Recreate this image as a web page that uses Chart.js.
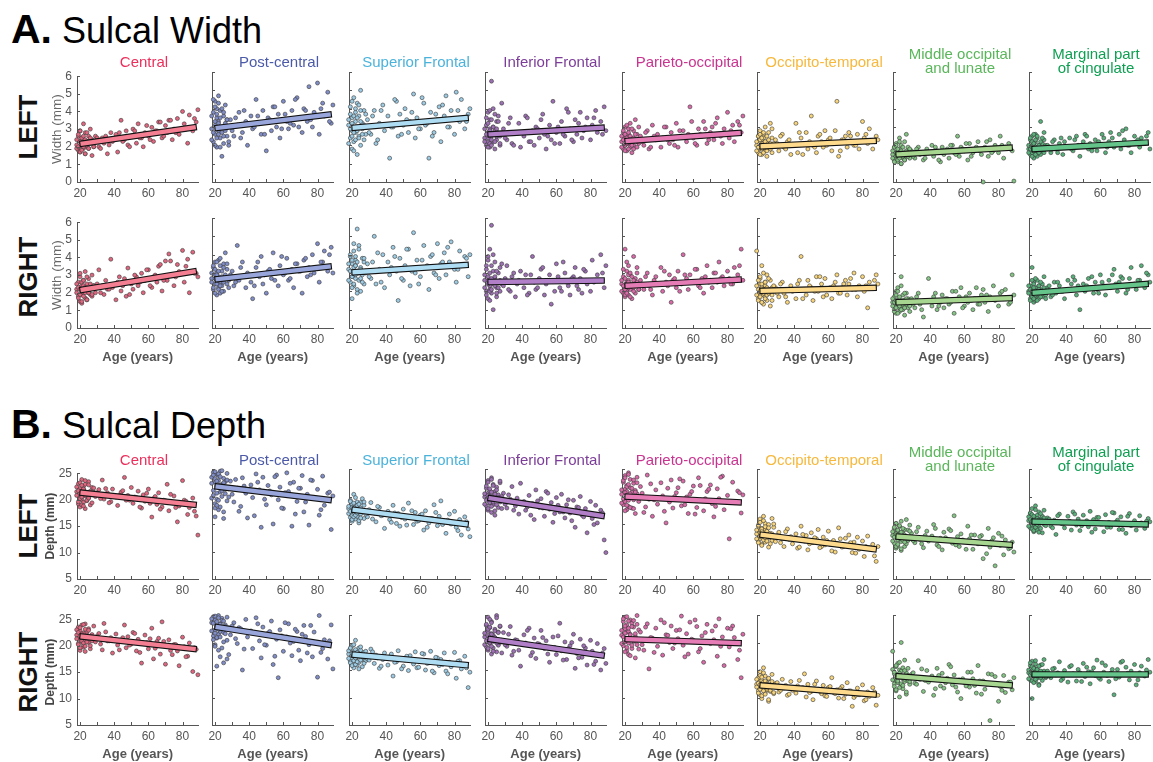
<!DOCTYPE html>
<html>
<head>
<meta charset="utf-8">
<script src="https://cdn.jsdelivr.net/npm/chart.js@4.4.1/dist/chart.umd.min.js"></script>
<style>
  body { margin:0; background:#fff; width:1153px; height:762px; position:relative; overflow:hidden;
         font-family:"Liberation Sans", Arial, Helvetica, sans-serif; }
  canvas { position:absolute; }
  .hdr { position:absolute; left:11px; font-size:36px; line-height:40px; white-space:nowrap; color:#000; }
  .hdr b { font-size:41px; }
  .rl { position:absolute; width:120px; height:30px; line-height:30px; text-align:center;
        font-weight:bold; font-size:26px; color:#111; transform:rotate(-90deg); }
  .ttl { position:absolute; width:170px; text-align:center; font-size:15px; line-height:14px; white-space:nowrap; }
</style>
</head>
<body>
<div class="hdr" style="top:9px"><b>A.</b> Sulcal Width</div>
<div class="hdr" style="top:404px"><b>B.</b> Sulcal Depth</div>
<div class="rl" style="left:-32px;top:112px">LEFT</div>
<div class="rl" style="left:-32px;top:262px">RIGHT</div>
<div class="rl" style="left:-32px;top:511px">LEFT</div>
<div class="rl" style="left:-32px;top:657px">RIGHT</div>

<script>
// subject ages (shared by every panel)
const ages = [18,19,19,20,20,20,21,21,21,22,22,22,23,23,23,24,24,25,25,26,26,27,27,28,
  29,31,33,34,36,38,39,41,42,44,46,47,48,50,51,53,54,56,57,58,60,62,63,65,66,68,
  70,71,72,74,75,77,78,80,81,83,84,86,88,89,
  18,18,19,19,20,20,20,21,21,21,22,22,22,23,23,24,24,25,25,26,27,28,
  30,32,35,37,43,45,49,52,55,59,61,64,67,69,73,76,82,87];
const lineAges = [21.5, 86.5];

const regions = ['Central','Post-central','Superior Frontal','Inferior Frontal','Parieto-occipital',
  'Occipito-temporal','Middle occipital\nand lunate','Marginal part\nof cingulate'];
const titleColors = ['#ec2f5b','#4b5aa8','#4bb3db','#7c3d99','#c93490','#f7b83c','#5ab65a','#0f9f52'];
const pointColors = ['#e0667f','#808dc6','#9ccbe3','#9d70b4','#d96aa8','#f8d47a','#84c484','#58b07a'];
const lineColors  = ['#f47f93','#98a6dc','#aedcf2','#b07fc8','#e57cb6','#fdda8c','#a6d690','#64c48a'];

const widthTicks = [0,1,2,3,4,5,6];
const depthTicks = [5,10,15,20,25];
const ageTicks = [20,30,40,50,60,70,80];
const ageLabels = [20,40,60,80];

// regression line values at lineAges
const widthLeftFit  = [[2.18,3.09],[2.95,3.67],[2.96,3.49],[2.6,2.96],[2.24,2.67],[1.95,2.24],[1.51,1.87],[1.8,2.15]];
const widthRightFit = [[2.17,3.2],[2.66,3.35],[3.04,3.44],[2.51,2.59],[2.31,2.64],[2.03,2.19],[1.41,1.63],[1.93,2.4]];
const depthLeftFit  = [[21.3,19.06],[21.8,19.4],[17.55,15.0],[19.67,16.5],[19.97,18.94],[13.0,10.45],[12.7,11.24],[15.42,14.94]];
const depthRightFit = [[21.7,19.4],[22.8,19.6],[17.77,15.9],[20.6,17.65],[20.6,19.9],[12.17,10.54],[13.86,12.23],[14.2,14.2]];

// sulcal width, left hemisphere (one list per region, matching ages)
const widthLeft = [
 [2.1,2.6,1.8,2.3,2.9,1.7,2.2,2.5,2.0,3.3,1.9,2.4,2.1,2.8,1.6,2.3,2.0,2.6,1.9,2.2,3.0,1.5,2.4,2.0,
  2.6,2.0,2.5,2.2,1.6,2.8,2.3,2.7,1.7,3.5,2.4,2.9,2.1,2.6,3.0,2.2,3.3,2.5,2.0,2.8,
  2.6,3.1,2.3,2.9,3.4,2.5,3.2,2.8,3.5,2.4,3.0,3.6,2.7,4.0,3.3,2.2,3.8,2.9,3.4,4.1,
  2.4,1.9,2.7,2.0,2.3,1.7,2.9,2.1,2.5,1.8,2.2,2.6,2.0,2.4,1.6,2.8,2.1,2.3,1.9,2.5,2.2,2.0,
  2.5,1.9,2.6,2.1,2.8,2.3,2.0,2.9,2.5,3.2,2.4,2.9,3.4,2.6,3.5,2.8,3.0,3.6],
 [2.9,3.8,2.2,4.4,3.1,2.6,3.5,1.9,4.0,2.8,3.3,4.7,2.4,3.0,3.9,1.4,2.7,3.6,2.1,3.2,4.2,2.5,3.4,2.0,
  3.4,2.5,3.1,3.8,2.7,3.3,2.0,3.6,2.9,4.5,3.2,2.6,3.9,1.7,3.5,2.8,4.1,3.0,3.7,2.4,
  4.4,3.3,2.9,3.9,3.1,4.6,3.5,2.7,4.0,3.3,5.2,3.0,3.8,5.4,2.6,4.3,3.6,4.9,3.2,4.2,
  3.6,2.3,4.5,2.7,3.3,2.0,4.1,2.9,3.7,2.4,3.2,4.3,2.6,3.5,1.9,3.0,4.0,2.5,3.8,2.8,3.4,2.2,
  2.8,3.5,2.4,3.9,3.0,3.6,2.6,3.4,4.1,2.9,3.7,3.2,4.5,3.0,3.9,3.4,4.0,3.3],
 [3.1,2.4,4.1,2.8,3.5,1.8,2.9,4.6,2.2,3.3,2.7,3.8,1.5,3.0,4.3,2.5,3.6,2.0,5.0,2.9,3.2,2.3,3.9,2.6,
  3.4,2.6,3.9,2.1,3.2,4.2,2.8,3.6,1.3,3.0,4.4,2.5,3.7,3.1,4.0,2.7,3.3,4.8,2.4,3.5,
  2.9,4.3,3.1,1.3,3.8,2.7,3.4,4.1,2.2,3.6,4.7,3.0,3.9,2.6,4.9,3.3,4.5,2.9,3.7,4.0,
  3.4,2.1,3.7,2.9,4.4,2.5,3.2,1.7,3.6,2.7,4.0,3.0,2.3,3.5,2.8,4.2,2.4,3.3,3.9,2.6,3.1,3.7,
  2.7,3.6,2.3,3.9,3.0,4.5,2.6,3.4,3.8,2.9,4.6,3.2,2.5,3.7,4.2,3.0,3.9,3.3],
 [2.4,3.1,2.0,2.7,3.8,2.2,2.9,1.9,3.4,2.5,5.5,2.1,3.0,2.6,4.0,1.8,2.8,3.3,2.3,2.7,3.6,2.0,2.5,4.3,
  2.9,2.3,3.5,2.1,2.7,3.2,1.9,2.5,3.6,2.2,2.8,2.0,3.0,2.4,3.4,2.6,1.8,3.1,2.3,4.4,
  2.7,2.1,3.3,2.5,4.0,2.9,2.2,3.4,2.6,3.8,2.4,3.0,3.5,2.3,3.1,3.9,2.7,3.3,4.1,2.8,
  2.9,2.2,3.5,2.6,1.9,3.2,2.4,3.9,2.1,2.8,3.4,2.3,2.0,3.0,2.6,3.7,2.2,2.9,2.5,3.3,2.1,2.7,
  2.4,3.2,2.0,2.7,3.5,2.2,2.9,3.7,2.5,2.1,3.0,2.6,3.8,2.3,3.2,2.8,3.5,2.6],
 [2.2,2.7,1.8,2.4,3.0,2.0,2.5,1.7,2.3,2.9,2.1,2.6,1.9,3.2,2.2,2.4,1.6,2.8,2.0,3.4,2.3,1.9,2.6,2.1,
  2.5,2.0,2.8,1.8,3.1,2.3,2.6,1.9,2.4,3.0,2.1,2.7,2.3,3.2,1.9,2.5,2.8,2.2,2.6,4.1,
  2.4,2.0,2.9,2.5,3.3,2.1,2.7,3.0,2.3,3.5,2.6,2.1,2.9,3.8,2.4,3.1,2.2,3.3,2.7,3.6,
  2.5,1.9,2.3,2.8,2.0,2.6,1.7,2.4,3.1,2.1,2.2,2.7,1.8,2.5,2.3,2.9,2.0,2.4,1.8,2.6,2.2,3.0,
  2.2,2.7,1.9,2.5,3.0,2.3,2.0,2.8,2.4,3.3,2.1,2.6,2.9,2.3,3.2,2.5,2.8,3.1],
 [2.0,2.5,1.6,2.2,2.8,1.8,2.3,1.5,2.1,2.6,1.9,2.4,1.7,3.0,2.0,2.2,1.4,2.7,1.9,3.2,2.1,1.6,2.4,2.0,
  2.3,1.7,2.6,1.9,2.2,1.5,2.0,3.2,1.6,2.4,2.1,2.7,1.8,3.6,2.0,1.6,2.5,2.2,1.9,2.8,
  2.3,1.7,2.1,4.4,1.4,2.3,2.5,1.9,2.7,2.2,2.0,2.6,1.8,3.3,2.4,2.1,2.9,1.8,2.5,2.3,
  2.2,1.7,2.5,1.9,2.3,1.5,2.6,2.0,1.8,2.4,2.1,1.6,2.7,1.9,2.2,1.7,2.5,2.0,2.3,1.8,2.9,2.1,
  2.1,2.5,1.8,2.3,2.7,1.5,2.2,1.9,2.6,2.0,2.4,2.8,1.7,2.3,2.5,2.0,2.6,2.2],
 [1.5,1.9,1.2,1.6,2.1,1.3,1.7,1.1,1.5,2.4,1.4,1.8,1.0,1.6,2.0,1.3,1.5,2.2,1.2,1.7,1.4,1.9,1.6,1.3,
  1.7,1.3,1.9,1.5,1.2,1.8,1.6,2.0,1.4,1.7,1.1,1.9,1.5,1.8,1.3,2.0,1.6,2.5,1.4,1.9,
  1.7,1.2,2.1,1.6,1.8,2.2,1.5,0.0,1.9,1.4,2.3,1.7,2.0,1.6,2.5,1.3,1.9,2.1,1.7,0.05,
  1.7,1.3,1.9,1.1,1.6,2.0,1.4,1.2,1.8,1.5,2.2,1.3,1.6,1.0,1.7,1.4,1.9,1.2,1.5,2.6,1.4,1.8,
  1.4,1.8,1.6,1.3,1.9,1.2,1.7,2.0,1.5,1.8,2.1,1.4,1.9,1.7,2.2,1.6,2.0,1.8],
 [1.8,2.3,1.5,2.0,2.5,1.6,1.9,1.3,2.1,2.6,1.7,2.2,1.4,1.9,2.4,1.8,2.0,1.5,3.3,2.1,1.7,2.3,1.6,2.0,
  2.0,1.6,2.3,1.8,2.1,1.5,2.2,1.9,2.4,1.7,2.5,2.0,1.4,2.2,2.6,1.8,2.1,1.9,2.3,1.7,
  2.0,2.4,1.6,2.2,2.7,1.9,2.1,2.6,1.8,2.3,2.9,2.0,1.6,2.5,2.2,1.9,2.4,2.1,2.7,1.8,
  2.0,1.6,2.4,1.8,2.2,1.4,1.9,2.6,1.7,2.1,1.5,2.3,1.9,1.7,2.5,2.0,1.6,2.2,1.8,2.4,2.7,1.9,
  1.9,2.2,1.6,2.4,1.8,2.3,2.0,2.5,1.7,2.2,2.6,1.9,2.4,2.1,2.8,2.0,2.3,2.5]
];

// sulcal width, right hemisphere
const widthRight = [
 [2.2,1.8,2.6,1.5,2.3,2.9,1.9,2.4,1.4,2.1,2.7,2.0,3.2,1.7,2.3,2.5,1.6,2.0,2.8,1.9,2.2,3.0,1.8,2.4,
  2.0,3.3,2.4,1.9,2.2,3.9,2.3,1.6,2.6,2.1,2.8,1.8,3.4,2.5,2.2,2.9,2.4,3.1,2.0,2.7,
  3.3,2.3,2.9,2.6,3.5,2.1,3.8,2.7,4.2,3.0,2.4,3.6,3.2,4.4,2.6,3.9,2.0,4.3,3.1,2.9,
  2.0,2.5,1.7,2.3,3.1,1.9,2.2,1.5,2.6,2.1,2.4,1.8,2.7,2.0,2.3,1.6,2.9,2.2,2.0,2.5,1.9,2.4,
  2.5,2.0,2.7,2.2,2.9,2.4,1.9,3.0,2.6,3.3,2.4,3.0,3.6,2.7,3.8,2.9,3.5,3.1],
 [2.7,3.3,2.1,2.9,3.6,2.4,1.8,3.0,2.6,3.7,2.2,2.8,3.4,1.9,2.5,3.1,2.3,3.5,2.0,2.8,4.1,2.4,3.2,2.6,
  2.9,2.3,4.5,2.6,3.6,2.2,3.0,2.5,1.6,3.3,2.8,3.9,2.4,1.9,3.1,2.7,4.1,3.0,2.3,3.4,
  2.9,3.8,2.6,3.2,2.2,3.5,3.1,1.9,3.7,2.8,3.3,4.0,3.0,4.6,2.5,3.6,4.2,3.1,4.4,3.0,
  2.5,3.0,2.2,3.4,2.7,1.9,3.2,2.4,2.9,3.6,2.1,2.6,3.1,2.3,3.8,2.8,2.0,3.3,2.5,2.9,3.5,2.2,
  3.1,2.5,3.3,2.8,2.3,3.6,2.9,3.2,2.6,3.9,3.0,2.7,3.5,3.1,3.8,2.9,3.6,4.0],
 [3.2,2.5,3.9,2.8,3.5,1.6,3.0,4.2,2.3,3.4,2.7,3.7,5.4,2.1,3.1,4.5,2.6,3.3,2.0,3.8,2.9,3.6,2.4,3.1,
  3.5,2.7,5.0,2.4,3.2,4.0,2.2,3.6,2.9,4.4,3.1,1.5,3.8,2.6,3.4,4.3,2.3,5.2,3.0,3.7,
  2.8,4.5,3.3,2.1,3.9,3.0,4.6,2.7,3.5,4.1,2.9,3.6,4.7,3.2,2.5,4.2,3.4,3.9,2.8,4.0,
  3.5,2.6,4.0,3.1,2.2,3.7,2.8,4.6,3.3,2.4,3.9,2.9,3.4,1.9,3.6,3.0,4.3,2.7,3.2,2.5,3.8,3.0,
  2.8,3.6,4.1,2.5,3.3,3.9,2.7,4.3,3.1,2.4,3.7,3.4,4.0,2.9,3.6,4.4,3.2,3.8],
 [2.6,3.4,2.0,2.8,1.6,3.9,2.3,4.3,2.1,5.6,2.5,1.9,3.1,2.4,1.0,2.7,3.6,2.2,1.7,3.0,2.5,2.0,3.3,2.4,
  2.3,3.4,2.0,2.8,1.7,2.6,3.1,2.2,2.9,1.9,3.9,2.5,2.1,2.7,3.2,1.8,2.4,2.9,1.3,2.6,
  3.5,2.2,2.0,3.0,2.5,1.8,2.8,3.3,2.3,2.7,1.9,3.1,2.4,2.0,3.7,2.6,2.9,4.0,2.2,3.4,
  2.9,2.2,3.2,1.8,2.6,3.7,2.4,2.0,3.0,1.5,2.7,3.4,2.1,2.5,4.0,2.3,2.8,1.9,3.1,2.2,2.6,3.5,
  2.7,2.1,3.0,2.4,1.8,2.9,2.2,3.3,2.6,2.0,2.8,3.6,2.3,2.7,2.1,3.2,2.5,3.0],
 [2.4,1.9,2.8,2.2,4.3,1.7,2.5,3.1,2.0,2.6,1.8,3.4,2.3,2.1,2.9,1.6,2.4,3.9,2.2,2.7,1.9,2.5,3.0,2.1,
  2.6,2.1,3.0,2.3,1.8,2.8,2.4,3.3,2.0,2.5,2.9,1.4,2.6,2.2,3.1,2.4,4.0,2.7,2.1,2.9,
  2.5,3.2,2.3,2.7,1.9,3.4,2.6,2.2,3.0,2.5,3.6,2.8,2.3,3.1,2.7,2.4,3.3,2.9,4.3,2.6,
  2.6,2.0,3.2,2.3,1.8,2.7,2.1,3.6,2.4,1.9,2.9,2.2,2.5,1.7,3.0,2.3,2.8,2.0,2.6,2.4,3.3,2.1,
  2.4,2.8,2.1,2.6,3.1,2.3,2.7,2.0,2.9,2.5,3.2,2.2,2.8,2.5,3.0,2.7,2.4,3.4],
 [4.2,2.1,1.6,2.4,1.9,2.7,1.4,2.2,3.4,1.8,2.0,1.3,2.5,1.7,2.3,2.9,1.5,2.1,1.9,2.6,1.2,2.2,1.8,2.0,
  2.2,1.7,2.5,1.9,1.4,2.3,2.0,1.6,2.4,3.9,2.1,1.8,2.6,2.2,1.5,2.8,2.0,2.4,1.7,2.7,
  2.1,1.6,2.3,2.9,1.9,2.2,2.6,1.8,2.4,2.1,3.0,1.7,2.3,2.8,2.0,1.1,2.5,2.2,2.9,2.4,
  2.3,1.8,2.6,1.5,2.0,2.8,1.7,2.2,1.4,2.4,1.9,3.0,2.1,1.6,2.5,1.8,2.2,2.7,1.9,2.0,1.5,2.3,
  1.9,2.4,1.7,2.1,2.6,1.6,2.3,2.0,2.8,1.8,2.2,2.5,1.9,2.4,2.7,2.1,2.3,2.6],
 [1.4,1.0,1.7,1.2,2.0,0.8,1.5,1.3,2.2,1.1,1.6,0.9,1.4,2.8,1.2,1.8,1.0,1.5,0.7,1.3,1.9,1.1,1.6,1.2,
  1.6,1.1,1.9,1.3,0.6,1.5,2.7,1.2,1.7,1.0,1.4,1.8,1.1,1.6,1.3,2.0,0.8,1.5,1.7,2.2,
  1.2,1.4,1.9,1.0,1.6,1.3,1.8,2.1,1.4,0.9,1.7,2.3,1.5,1.2,1.9,1.6,2.1,1.3,2.9,1.8,
  1.2,1.6,0.9,1.4,1.8,1.1,1.5,2.0,1.3,0.8,1.7,1.2,1.4,2.3,1.0,1.5,1.3,1.9,1.1,1.6,1.4,0.9,
  1.3,1.7,1.0,1.5,1.9,1.2,1.6,1.4,2.0,1.1,1.7,1.5,2.2,1.3,1.8,1.6,2.0,1.4],
 [2.0,1.6,2.3,3.3,1.8,2.1,1.4,2.5,1.9,1.7,2.2,1.5,2.0,2.6,1.8,2.3,1.6,2.1,1.9,2.4,1.7,2.0,2.8,1.8,
  2.2,1.7,2.5,1.9,2.3,2.0,1.6,2.6,2.1,2.8,1.8,2.3,1.0,2.4,2.0,2.7,2.2,1.9,2.5,2.1,
  2.9,2.3,1.8,2.6,2.2,3.2,2.0,2.5,2.8,2.3,1.9,2.7,3.3,2.4,2.1,2.6,3.4,2.2,2.9,2.5,
  1.9,2.3,1.5,2.1,2.6,1.7,2.0,2.4,1.6,2.2,1.9,2.7,1.8,2.0,1.5,2.3,2.1,1.7,2.5,1.9,2.2,1.6,
  2.3,1.8,2.5,2.0,2.4,2.6,2.1,2.3,2.8,1.9,2.5,2.2,2.9,2.4,2.7,2.1,2.6,3.0]
];

// sulcal depth, left hemisphere
const depthLeft = [
 [21.5,19.2,23.0,20.4,22.1,18.6,21.0,23.8,20.0,22.5,19.5,21.8,20.7,18.3,22.9,21.2,19.8,23.4,20.3,21.6,19.0,22.3,20.9,21.4,
  20.6,21.9,23.7,20.1,21.3,19.6,22.0,20.5,18.9,21.4,24.2,19.9,20.8,22.3,19.3,20.4,21.6,18.4,20.9,19.7,
  22.0,16.7,20.2,19.1,21.3,18.6,19.8,22.9,17.9,19.4,20.7,15.8,18.8,23.6,19.9,17.2,18.5,20.3,16.9,13.3,
  20.8,22.4,19.6,21.7,23.2,20.2,21.1,19.0,22.7,20.5,21.9,18.8,22.0,20.9,23.6,19.9,21.4,22.8,20.3,21.0,19.4,22.2,
  21.3,20.2,22.1,19.4,20.8,21.7,19.9,20.5,18.6,21.2,19.3,20.6,18.2,19.9,21.0,18.5,19.7,17.8],
 [23.5,20.2,24.4,18.7,22.6,16.3,21.9,24.0,19.5,22.9,17.6,23.8,20.8,24.6,18.1,22.2,21.0,23.3,16.0,20.5,22.7,19.2,24.2,21.4,
  22.8,19.0,21.5,17.3,23.4,20.6,16.1,22.1,19.8,24.1,21.2,14.4,23.5,18.5,22.0,20.3,15.0,23.9,19.4,21.7,
  17.8,24.3,20.9,14.6,22.6,19.1,21.5,23.8,17.2,20.4,14.8,22.9,19.7,21.3,16.6,23.7,18.4,20.6,14.0,20.1,
  22.4,19.7,23.9,21.1,24.5,17.9,23.2,20.6,22.8,18.4,24.1,21.7,19.3,23.6,22.1,20.0,24.7,17.2,22.5,21.3,23.0,19.9,
  20.4,23.1,18.2,21.9,16.5,22.6,19.5,21.0,23.6,17.9,20.7,22.4,16.8,21.5,19.0,23.0,17.6,20.8],
 [17.8,16.2,19.3,17.0,18.6,15.5,17.4,20.4,16.7,18.1,15.9,17.6,19.0,16.4,18.3,17.1,15.2,18.9,16.8,17.5,19.6,16.0,18.4,17.2,
  16.3,18.9,17.0,15.4,18.0,16.6,14.2,17.3,15.8,18.4,15.1,16.9,14.6,17.7,15.9,18.8,16.2,14.9,17.1,15.5,
  16.6,13.9,17.4,15.2,16.0,18.5,14.7,16.4,19.2,15.6,13.3,16.8,15.0,17.3,14.4,15.8,13.0,16.3,14.1,12.7,
  18.2,16.9,17.3,19.1,16.5,18.0,15.8,17.7,18.8,16.3,17.5,19.8,16.6,18.4,17.0,15.6,18.6,17.9,16.1,17.4,19.0,16.8,
  17.6,15.9,18.2,16.5,15.3,17.0,16.2,14.8,17.4,15.6,16.8,14.4,16.0,17.1,14.9,15.7,13.8,15.4],
 [19.9,21.5,18.3,20.6,22.9,17.5,19.2,21.0,18.8,23.4,20.1,17.1,19.7,22.2,18.5,20.9,16.6,19.4,21.7,18.0,20.3,19.0,22.5,17.8,
  20.6,17.9,19.5,21.8,18.3,16.8,22.4,19.1,17.5,20.2,18.7,15.8,21.2,18.0,19.6,16.4,20.9,17.7,18.9,15.3,
  19.8,17.2,20.4,16.1,18.5,17.0,19.3,14.4,18.1,20.0,16.6,17.8,13.4,19.1,16.0,18.4,15.2,17.5,12.1,9.8,
  20.5,18.6,21.9,19.3,22.6,17.8,20.2,18.9,21.4,19.6,23.1,18.2,20.8,19.0,22.0,17.4,20.4,21.2,18.5,19.8,22.8,20.0,
  18.6,20.3,17.5,19.7,18.1,16.6,19.2,17.9,20.6,16.9,18.4,17.2,19.4,15.6,18.0,16.3,14.9,17.0],
 [20.4,22.6,18.5,21.3,23.8,19.1,20.9,17.6,22.0,19.7,24.3,18.2,21.6,20.2,23.1,17.9,20.8,22.4,19.4,21.1,16.9,20.5,23.5,19.8,
  21.8,17.1,23.9,19.5,16.4,21.2,18.6,22.5,20.1,15.2,19.0,23.0,17.9,20.7,21.6,18.3,22.8,19.9,16.9,20.4,
  21.9,18.0,23.4,19.3,17.4,20.9,22.1,18.7,16.3,21.4,19.6,23.7,17.6,20.2,12.3,22.6,18.9,21.0,17.0,20.3,
  21.2,18.8,22.9,19.6,20.7,17.4,23.4,20.0,21.8,18.4,22.2,19.3,24.0,20.5,18.0,21.5,19.9,23.0,17.8,20.8,22.5,19.1,
  20.6,18.1,22.3,19.4,17.3,21.5,20.0,23.2,18.5,20.9,16.8,22.0,19.6,21.3,18.2,23.5,19.0,20.7],
 [13.2,14.6,11.9,13.8,15.9,12.4,13.5,11.3,14.2,16.4,12.8,13.0,15.1,11.7,14.0,12.2,13.6,10.8,14.9,12.6,13.3,16.0,12.0,14.4,
  11.8,13.5,12.3,10.9,14.1,12.7,11.4,13.2,10.6,14.6,11.9,12.9,10.3,13.4,11.6,12.3,14.0,10.9,12.6,11.2,
  13.7,10.1,12.0,11.5,14.3,10.8,12.4,11.0,13.0,9.8,11.7,12.6,10.4,11.9,9.1,12.8,10.7,11.3,8.2,10.9,
  13.9,12.3,14.8,11.6,13.4,15.3,12.7,14.1,11.1,13.6,12.1,15.6,13.0,12.5,14.5,11.9,13.7,12.9,14.3,11.4,13.2,15.0,
  12.9,11.6,13.6,12.2,10.8,13.1,11.4,12.5,10.7,12.0,11.3,9.9,12.3,10.9,11.6,9.7,10.9,9.2],
 [12.9,14.2,11.5,13.4,10.6,15.1,12.2,13.8,11.0,14.6,12.5,13.1,10.2,15.5,11.8,13.6,12.3,10.9,14.0,12.7,11.4,13.9,12.0,14.8,
  13.3,11.6,14.4,12.2,10.7,13.7,11.9,12.8,14.9,11.2,12.4,10.3,13.5,12.0,14.1,11.5,16.5,12.7,10.9,13.2,
  11.8,14.6,12.3,10.4,13.0,11.4,12.9,8.7,11.6,14.2,10.8,12.5,7.4,13.3,11.1,9.4,12.1,10.5,11.7,9.9,
  13.6,11.9,14.4,12.6,10.9,13.2,15.1,12.1,13.9,11.3,12.8,14.7,12.4,10.5,13.5,12.0,14.2,11.7,13.0,15.8,12.3,13.7,
  12.0,13.6,11.4,12.9,14.2,10.9,12.5,13.8,11.2,12.1,10.4,13.0,11.6,12.7,9.6,11.9,12.8,10.7],
 [15.6,16.9,14.3,15.2,17.8,14.8,16.2,13.6,15.9,18.3,14.5,15.4,16.6,13.9,15.1,17.2,14.7,16.0,15.5,13.4,16.4,14.9,17.5,15.3,
  16.1,14.6,15.7,13.1,16.8,15.0,14.3,16.4,15.5,17.2,14.8,15.9,13.8,16.6,15.2,14.5,17.3,15.8,14.1,16.2,
  15.0,13.6,16.7,15.3,14.4,17.0,15.7,14.0,16.3,15.1,13.3,16.9,14.7,15.6,13.9,16.5,15.2,14.2,16.0,15.4,
  16.3,14.6,15.8,17.0,14.1,15.5,16.7,13.8,15.0,16.4,14.4,17.6,15.3,14.9,16.0,13.5,15.7,16.9,14.2,15.4,16.1,14.7,
  15.9,14.3,16.5,15.1,13.9,16.8,14.7,15.6,13.5,16.2,15.0,14.4,17.1,15.3,14.0,16.4,14.8,15.5]
];

// sulcal depth, right hemisphere
const depthRight = [
 [22.0,20.4,23.5,21.2,19.1,22.8,20.8,23.9,21.6,19.7,22.4,20.1,24.1,21.0,18.9,22.6,21.4,20.6,23.2,21.8,19.4,22.1,20.9,21.5,
  20.7,22.3,19.2,24.2,20.9,21.5,18.6,22.2,20.1,21.0,23.9,19.6,21.7,20.3,22.5,19.0,21.2,16.7,20.6,22.0,
  19.4,23.3,17.5,20.8,21.4,24.5,16.5,19.9,21.1,18.3,20.2,19.0,16.2,21.6,19.8,18.0,20.5,15.1,19.3,14.5,
  21.3,23.0,20.2,22.5,21.8,19.6,23.4,20.9,22.2,21.5,24.0,20.5,21.9,19.9,23.1,22.0,20.7,21.4,22.9,20.0,21.7,23.7,
  21.8,20.3,22.6,20.9,19.2,21.5,20.1,22.3,18.7,20.6,21.3,19.5,18.4,20.8,19.1,20.2,17.9,19.6],
 [23.6,21.2,24.7,22.3,19.6,24.1,20.8,23.0,15.7,22.6,24.9,21.5,17.4,23.4,22.0,19.0,24.4,21.8,16.3,23.2,22.9,20.4,24.6,17.8,
  21.4,23.6,19.8,22.7,15.0,24.2,21.0,22.1,18.9,24.5,20.3,17.2,22.8,19.5,21.7,23.9,16.0,20.6,13.6,22.3,
  18.4,21.0,23.4,17.6,20.2,22.0,16.7,21.5,23.1,18.1,19.6,17.4,21.9,13.7,24.9,18.9,20.5,17.0,23.2,15.2,
  22.1,24.3,20.5,23.5,21.7,24.8,19.3,22.9,23.8,20.9,24.5,22.4,18.6,23.3,21.0,24.0,22.6,20.1,23.9,21.6,17.0,22.7,
  23.0,20.7,22.5,18.8,21.7,23.4,19.6,22.0,17.5,21.2,23.6,19.9,22.4,18.6,21.1,23.1,18.2,20.3],
 [17.9,16.6,18.8,17.2,19.4,16.1,17.6,18.3,15.4,17.0,20.4,16.8,18.1,17.4,15.9,19.0,16.4,17.8,18.6,16.9,15.6,18.2,17.3,16.7,
  17.0,18.8,16.2,17.7,15.3,16.9,18.1,15.9,17.4,13.9,16.5,18.5,17.1,15.7,16.8,14.9,17.6,16.1,18.3,15.4,
  16.6,17.9,15.0,16.3,18.4,14.5,17.2,15.8,16.9,18.1,14.8,16.4,15.6,18.2,13.5,16.7,15.2,17.5,11.8,14.6,
  18.5,17.1,16.3,19.0,17.7,15.8,18.0,16.7,17.5,19.6,16.0,18.7,17.2,16.5,18.2,15.2,17.9,16.8,19.2,17.4,16.2,18.4,
  16.8,18.3,17.2,15.7,17.9,16.4,15.2,17.5,16.9,15.5,18.0,16.2,14.8,17.3,16.0,14.3,16.6,15.4],
 [21.0,23.1,19.2,22.0,24.6,18.6,20.5,22.7,19.8,21.6,17.9,23.8,20.2,21.3,19.0,22.4,20.8,18.3,24.9,21.9,19.5,20.0,22.9,18.1,
  21.8,19.3,22.9,17.7,20.5,18.6,15.7,21.4,19.9,22.6,18.2,20.8,17.1,19.7,22.2,18.9,20.3,16.4,19.1,21.0,
  17.8,23.5,18.5,20.1,16.9,19.4,21.5,15.3,18.0,20.6,17.3,19.0,15.9,20.4,18.4,16.6,19.8,15.0,18.9,16.2,
  21.7,19.6,23.3,20.3,22.4,18.9,21.2,24.2,20.0,22.8,19.3,21.5,23.6,20.7,18.4,22.1,20.9,24.5,19.9,21.8,23.0,20.4,
  19.6,21.5,18.4,20.4,22.2,17.6,19.8,20.9,17.9,19.1,21.2,16.8,18.9,20.0,17.2,19.4,16.0,18.1],
 [21.3,23.8,19.4,22.5,20.1,24.6,18.5,21.9,23.2,19.9,22.0,17.8,24.1,20.6,21.5,18.9,23.5,20.3,22.8,17.2,21.1,24.9,19.6,22.3,
  21.9,18.6,23.4,15.2,20.8,22.6,19.3,24.1,17.7,21.4,20.0,23.0,18.9,22.2,20.7,24.8,19.5,21.6,17.9,23.7,
  20.4,22.9,18.3,21.2,16.4,23.3,19.8,22.1,20.5,17.5,24.3,21.0,15.8,22.6,19.2,23.0,20.9,16.9,13.6,21.5,
  22.2,19.8,24.3,21.0,23.0,18.3,21.7,20.4,24.7,19.1,22.6,20.8,23.9,17.6,21.4,22.9,19.5,24.0,20.2,21.6,23.3,18.8,
  19.6,22.8,20.9,18.2,23.6,21.3,19.9,22.3,17.4,20.6,24.1,18.9,21.8,20.1,23.0,19.3,22.5,18.6],
 [12.4,13.6,11.2,12.9,10.5,14.7,11.8,13.1,9.8,12.6,15.4,11.5,12.2,13.9,10.9,12.7,11.4,9.3,13.4,12.0,11.1,14.2,12.5,10.7,
  12.5,11.0,13.3,11.7,10.4,12.9,11.3,10.8,12.1,11.6,14.3,10.1,12.4,11.1,9.6,13.0,11.5,10.7,12.2,10.3,
  11.8,13.6,10.9,11.4,9.9,12.0,10.6,12.7,11.2,8.4,10.0,11.7,10.5,12.3,9.4,11.0,10.2,11.8,8.6,10.4,
  11.9,13.3,10.8,12.6,14.0,11.5,12.3,10.3,13.7,12.0,11.2,14.5,12.8,10.6,13.0,11.7,12.4,9.6,13.5,11.3,12.9,10.9,
  12.7,11.3,12.2,10.6,13.1,11.8,10.9,12.4,11.1,10.2,12.0,10.7,11.6,9.8,11.2,10.4,9.6,11.0],
 [18.4,14.3,12.5,15.6,13.1,11.2,16.2,14.0,12.8,15.0,10.1,13.7,20.0,12.2,14.8,11.6,13.4,16.8,12.9,14.5,10.6,13.0,15.3,12.4,
  14.2,12.6,16.7,13.3,11.1,14.9,12.8,13.9,10.4,15.3,12.1,14.4,11.7,13.5,16.0,12.3,14.1,11.0,13.2,9.8,
  12.7,14.6,11.9,13.4,12.2,15.8,10.6,13.0,11.5,14.3,5.8,12.5,13.8,9.3,12.0,14.0,10.9,12.8,11.4,13.6,
  13.2,15.1,12.0,14.6,13.5,11.4,15.8,12.7,14.1,13.0,16.4,11.8,14.4,12.5,13.7,15.4,12.2,14.9,13.3,11.0,14.0,12.9,
  14.5,12.4,15.2,13.1,11.6,14.0,12.7,15.6,11.9,13.4,12.1,14.6,10.8,13.0,12.4,14.2,11.3,12.8],
 [14.5,15.8,13.2,14.9,9.8,16.6,13.8,14.2,15.4,12.9,14.7,16.1,13.5,14.0,15.2,12.4,14.6,13.7,15.9,14.3,13.1,16.9,14.8,13.6,
  14.8,13.6,15.3,14.1,16.5,13.4,14.9,12.8,15.6,14.3,13.0,15.1,14.5,16.2,13.8,14.7,12.5,15.4,14.0,16.8,
  13.3,14.6,15.8,12.9,14.4,10.5,15.1,13.7,16.4,14.2,15.5,13.2,14.8,16.0,12.3,14.5,15.7,13.9,16.9,14.6,
  15.0,13.4,16.3,14.1,13.0,15.6,14.4,12.7,15.3,13.9,16.7,14.6,13.3,15.1,14.0,12.2,15.7,14.8,13.6,16.0,14.3,13.8,
  13.9,15.2,14.5,13.1,15.8,14.2,12.9,15.5,14.7,13.6,16.3,14.0,15.1,13.4,16.6,14.4,13.2,15.0]
];

Chart.defaults.font.family = "'Liberation Sans', Arial, Helvetica, sans-serif";

// page layout
const colLeft = [77, 212, 349, 485, 622, 757, 893, 1029];
const plotW = 122, plotH = 110, T = 8, R = 4;
const rows = [
  {top: 72,  vals: widthLeft,  fit: widthLeftFit,  yTicks: widthTicks, min: 0, max: 6,
   yTitle: 'Width (mm)', ySize: 13.5, yWeight: 'normal', yColor: '#666', m: 28, xTitle: false},
  {top: 218, vals: widthRight, fit: widthRightFit, yTicks: widthTicks, min: 0, max: 6,
   yTitle: 'Width (mm)', ySize: 13.5, yWeight: 'normal', yColor: '#666', m: 28, xTitle: true},
  {top: 469, vals: depthLeft,  fit: depthLeftFit,  yTicks: depthTicks, min: 5, max: 25,
   yTitle: 'Depth (mm)', ySize: 12, yWeight: 'bold', yColor: '#444', m: 34, xTitle: false},
  {top: 615, vals: depthRight, fit: depthRightFit, yTicks: depthTicks, min: 5, max: 25,
   yTitle: 'Depth (mm)', ySize: 12, yWeight: 'bold', yColor: '#444', m: 34, xTitle: true}
];

// MATLAB style ticks pointing into the plot
const inwardTicks = {
  id: 'inwardTicks',
  afterDraw(chart) {
    const {ctx, chartArea: a, scales: {x, y}} = chart;
    ctx.save();
    ctx.strokeStyle = '#555';
    ctx.lineWidth = 1;
    ctx.beginPath();
    x.ticks.forEach(t => {
      const px = Math.round(x.getPixelForValue(t.value)) + 0.5;
      ctx.moveTo(px, a.bottom); ctx.lineTo(px, a.bottom - 3);
    });
    y.ticks.forEach(t => {
      const py = Math.round(y.getPixelForValue(t.value)) + 0.5;
      ctx.moveTo(a.left, py); ctx.lineTo(a.left + 3, py);
    });
    ctx.stroke();
    ctx.restore();
  }
};

function makePanel(row, c) {
  const M = c === 0 ? row.m : 8;
  const B = row.xTitle ? 37 : 22;
  const canvas = document.createElement('canvas');
  canvas.width = M + plotW + R;
  canvas.height = T + plotH + B;
  canvas.style.left = (colLeft[c] - M) + 'px';
  canvas.style.top = (row.top - T) + 'px';
  document.body.appendChild(canvas);

  const vals = row.vals[c];
  const pts = [];
  ages.forEach((a, i) => { if (vals[i] !== undefined) pts.push({x: a, y: vals[i]}); });
  const fit = lineAges.map((a, i) => ({x: a, y: row.fit[c][i]}));

  new Chart(canvas.getContext('2d'), {
    type: 'scatter',
    data: {
      datasets: [
        {data: pts, pointRadius: 2.0, pointBackgroundColor: pointColors[c],
         pointBorderColor: '#3a3a3a', pointBorderWidth: 0.6, clip: false, order: 3},
        {data: fit, showLine: true, borderColor: '#111', borderWidth: 6.5, borderCapStyle: 'square',
         pointRadius: 0, clip: false, order: 2},
        {data: fit, showLine: true, borderColor: lineColors[c], borderWidth: 4.3, borderCapStyle: 'square',
         pointRadius: 0, clip: false, order: 1}
      ]
    },
    options: {
      responsive: false,
      animation: false,
      events: [],
      layout: {padding: {top: T, right: R, left: 0, bottom: 0}},
      plugins: {legend: {display: false}, tooltip: {enabled: false}},
      scales: {
        x: {
          type: 'linear', min: 18.2, max: 89.3,
          afterBuildTicks: s => { s.ticks = ageTicks.map(v => ({value: v})); },
          afterFit: s => { s.height = B; },
          grid: {display: false, drawTicks: false},
          border: {display: true, color: '#555', width: 1},
          ticks: {padding: 4, color: '#555', font: {size: 12}, maxRotation: 0, autoSkip: false,
                  callback: v => ageLabels.includes(v) ? String(v) : ''},
          title: {display: row.xTitle, text: 'Age (years)', color: '#555',
                  font: {size: 13, weight: 'bold'}, padding: {top: 0, bottom: 0}}
        },
        y: {
          type: 'linear', min: row.min, max: row.max,
          afterBuildTicks: s => { s.ticks = row.yTicks.map(v => ({value: v})); },
          afterFit: s => { s.width = M; },
          grid: {display: false, drawTicks: false},
          border: {display: true, color: '#555', width: 1},
          ticks: {display: c === 0, padding: 5, color: '#555', font: {size: 12}},
          title: {display: c === 0, text: row.yTitle, color: row.yColor,
                  font: {size: row.ySize, weight: row.yWeight}, padding: {top: 0, bottom: 0}}
        }
      }
    },
    plugins: [inwardTicks]
  });
}

rows.forEach(row => regions.forEach((_, c) => makePanel(row, c)));

// column titles above each section
[62, 460].forEach(cy => {
  regions.forEach((name, c) => {
    const lines = name.split('\n');
    const d = document.createElement('div');
    d.className = 'ttl';
    d.style.color = titleColors[c];
    d.innerHTML = lines.join('<br>');
    d.style.left = (colLeft[c] + 67 - 85) + 'px';
    d.style.top = (cy - (lines.length === 1 ? 7 : 15)) + 'px';
    document.body.appendChild(d);
  });
});
</script>
</body>
</html>
